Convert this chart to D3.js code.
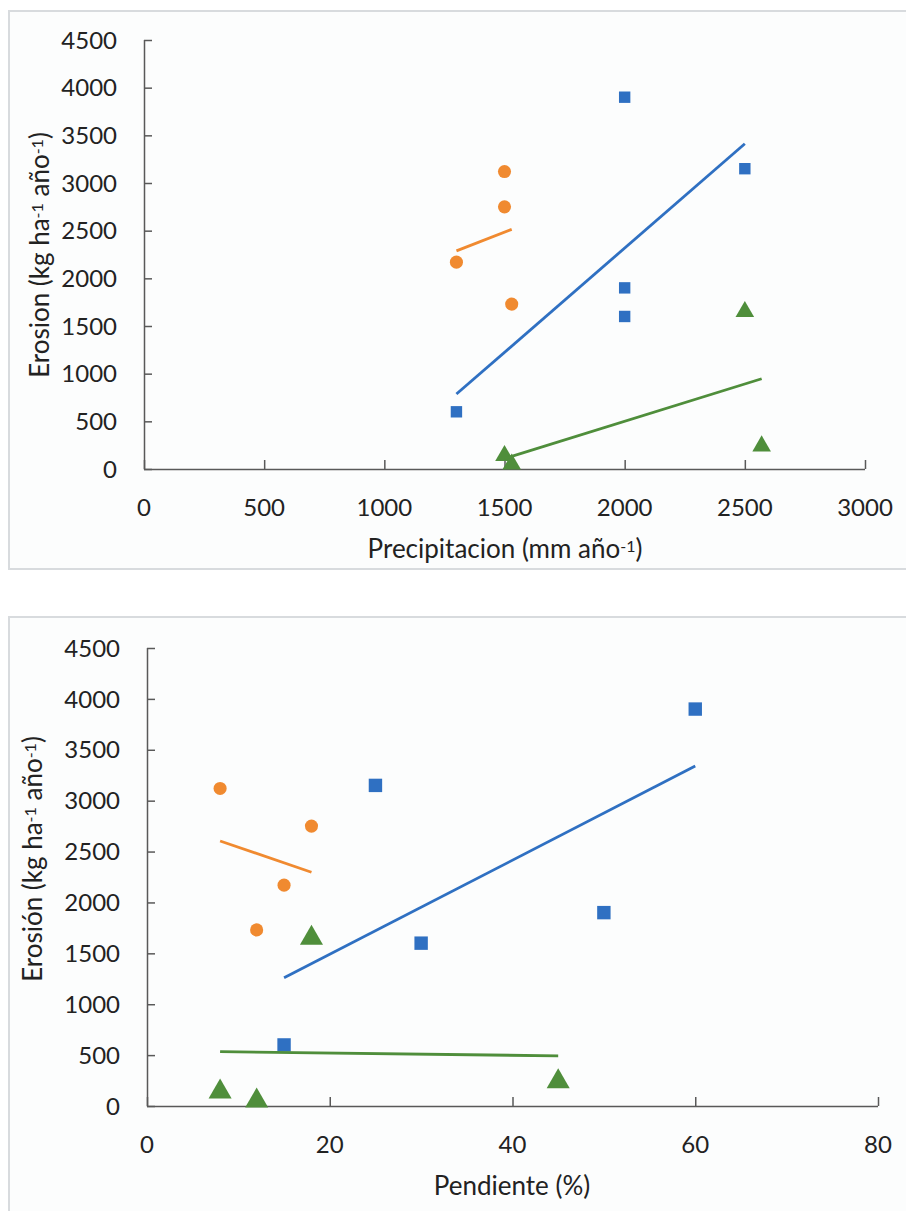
<!DOCTYPE html>
<html>
<head>
<meta charset="utf-8">
<script src="https://cdn.jsdelivr.net/npm/d3@7"></script>
<style>
  body { margin: 0; background: #fff; }
  svg text { font-family: Lato, "Open Sans", sans-serif; fill: #222; }
</style>
</head>
<body>
<div id="chart"></div>
<script>
// erosion values, shared by both panels
const erosionBlue = [600, 3900, 1900, 1600, 3150];
const erosionOrange = [2170, 3120, 2750, 1730];
const erosionGreen = [140, 50, 1650, 240];

// precipitation (mm/yr) of the same points
const precipBlue = [1300, 2000, 2000, 2000, 2500];
const precipOrange = [1300, 1500, 1500, 1530];
const precipGreen = [1500, 1530, 2500, 2570];

// slope (%) of the same points
const slopeBlue = [15, 60, 50, 30, 25];
const slopeOrange = [15, 8, 18, 12];
const slopeGreen = [8, 12, 18, 45];

const yTicks = [0, 500, 1000, 1500, 2000, 2500, 3000, 3500, 4000, 4500];
const precipTicks = [0, 500, 1000, 1500, 2000, 2500, 3000];
const slopeTicks = [0, 20, 40, 60, 80];

const colors = { blue: '#2F70C2', orange: '#F08A30', green: '#4F8E3B' };

const svg = d3.select('#chart').append('svg')
  .attr('width', 906)
  .attr('height', 1211);

// linear least squares trend, drawn from min x to max x
function trend(xs, ys) {
  const mx = d3.mean(xs), my = d3.mean(ys);
  const sxy = d3.sum(xs, (x, i) => (x - mx) * (ys[i] - my));
  const sxx = d3.sum(xs, x => (x - mx) * (x - mx));
  const b = sxy / sxx;
  const ext = d3.extent(xs);
  return ext.map(x => [x, my + b * (x - mx)]);
}

function drawPanel(cfg) {
  const g = svg.append('g');

  g.append('rect')
    .attr('x', cfg.frame[0]).attr('y', cfg.frame[1])
    .attr('width', cfg.frame[2]).attr('height', cfg.frame[3])
    .attr('fill', '#fcfdfd')
    .attr('stroke', '#d8dbde')
    .attr('stroke-width', 2);

  const x = d3.scaleLinear().domain(cfg.xDomain).range([cfg.left, cfg.right]);
  const y = d3.scaleLinear().domain([0, 4500]).range([cfg.bottom, cfg.top]);

  const yAxis = g.append('g')
    .attr('transform', 'translate(' + cfg.left + ',0)')
    .call(d3.axisRight(y).tickValues(yTicks).tickSize(8).tickFormat(''));
  const xAxis = g.append('g')
    .attr('transform', 'translate(0,' + cfg.bottom + ')')
    .call(d3.axisTop(x).tickValues(cfg.xTicks).tickSize(9).tickFormat(''));
  [yAxis, xAxis].forEach(a => {
    a.selectAll('path, line').attr('stroke', '#595959').attr('stroke-width', 1.5);
    a.select('.domain').attr('d', function() {
      return a === yAxis
        ? 'M0.5,' + cfg.top + 'V' + (cfg.bottom + 0.5)
        : 'M' + cfg.left + ',0.5H' + cfg.right;
    });
  });

  g.selectAll('text.ytick')
    .data(yTicks)
    .enter()
    .append('text')
    .attr('class', 'ytick')
    .attr('x', cfg.left - 27)
    .attr('y', d => y(d))
    .attr('dy', '0.36em')
    .attr('text-anchor', 'end')
    .style('font-size', '24px')
    .text(d => d);

  g.selectAll('text.xtick')
    .data(cfg.xTicks)
    .enter()
    .append('text')
    .attr('class', 'xtick')
    .attr('x', d => x(d))
    .attr('y', cfg.bottom + cfg.xLabelGap)
    .attr('dy', '0.36em')
    .attr('text-anchor', 'middle')
    .style('font-size', '24px')
    .text(d => d);

  // axis titles
  const xt = g.append('text')
    .attr('x', cfg.xTitle[0]).attr('y', cfg.xTitle[1])
    .attr('text-anchor', 'middle')
    .style('font-size', '26px');
  cfg.xTitleParts.forEach(p => {
    xt.append('tspan')
      .attr('baseline-shift', p.sup ? '38%' : null)
      .style('font-size', p.sup ? '16px' : null)
      .text(p.t);
  });

  const yt = g.append('text')
    .attr('transform', 'translate(' + cfg.yTitle[0] + ',' + cfg.yTitle[1] + ') rotate(-90)')
    .attr('text-anchor', 'middle')
    .style('font-size', '26px');
  cfg.yTitleParts.forEach(p => {
    yt.append('tspan')
      .attr('baseline-shift', p.sup ? '38%' : null)
      .style('font-size', p.sup ? '16px' : null)
      .text(p.t);
  });

  const line = d3.line().x(d => x(d[0])).y(d => y(d[1]));
  const series = [
    { xs: cfg.xs.blue, ys: erosionBlue, color: colors.blue, shape: d3.symbolSquare, size: cfg.sizes[0] },
    { xs: cfg.xs.orange, ys: erosionOrange, color: colors.orange, shape: d3.symbolCircle, size: cfg.sizes[1] },
    { xs: cfg.xs.green, ys: erosionGreen, color: colors.green, shape: d3.symbolTriangle, size: cfg.sizes[2] }
  ];

  series.forEach(s => {
    g.append('g')
      .selectAll('path')
      .data(s.xs.map((v, i) => [v, s.ys[i]]))
      .enter()
      .append('path')
      .attr('transform', d => 'translate(' + x(d[0]) + ',' + y(d[1]) + ')')
      .attr('d', d3.symbol().type(s.shape).size(s.size))
      .attr('fill', s.color);
  });

  series.forEach(s => {
    g.append('path')
      .datum(trend(s.xs, s.ys))
      .attr('d', line)
      .attr('fill', 'none')
      .attr('stroke', s.color)
      .attr('stroke-width', 2.8);
  });
}

drawPanel({
  frame: [9, 11, 910, 558],
  left: 144, right: 865, top: 40, bottom: 469,
  xDomain: [0, 3000], xTicks: precipTicks, xLabelGap: 38,
  xs: { blue: precipBlue, orange: precipOrange, green: precipGreen },
  sizes: [130, 135, 150],
  xTitle: [505, 558],
  xTitleParts: [{ t: 'Precipitacion (mm año' }, { t: '-1', sup: true }, { t: ')' }],
  yTitle: [49, 255],
  yTitleParts: [{ t: 'Erosion (kg ha' }, { t: '-1', sup: true }, { t: ' año' }, { t: '-1', sup: true }, { t: ')' }]
});

drawPanel({
  frame: [9, 617, 910, 620],
  left: 147, right: 878, top: 648, bottom: 1106,
  xDomain: [0, 80], xTicks: slopeTicks, xLabelGap: 38,
  xs: { blue: slopeBlue, orange: slopeOrange, green: slopeGreen },
  sizes: [180, 135, 230],
  xTitle: [512, 1195],
  xTitleParts: [{ t: 'Pendiente (%)' }],
  yTitle: [42, 859],
  yTitleParts: [{ t: 'Erosión (kg ha' }, { t: '-1', sup: true }, { t: ' año' }, { t: '-1', sup: true }, { t: ')' }]
});
</script>
</body>
</html>
